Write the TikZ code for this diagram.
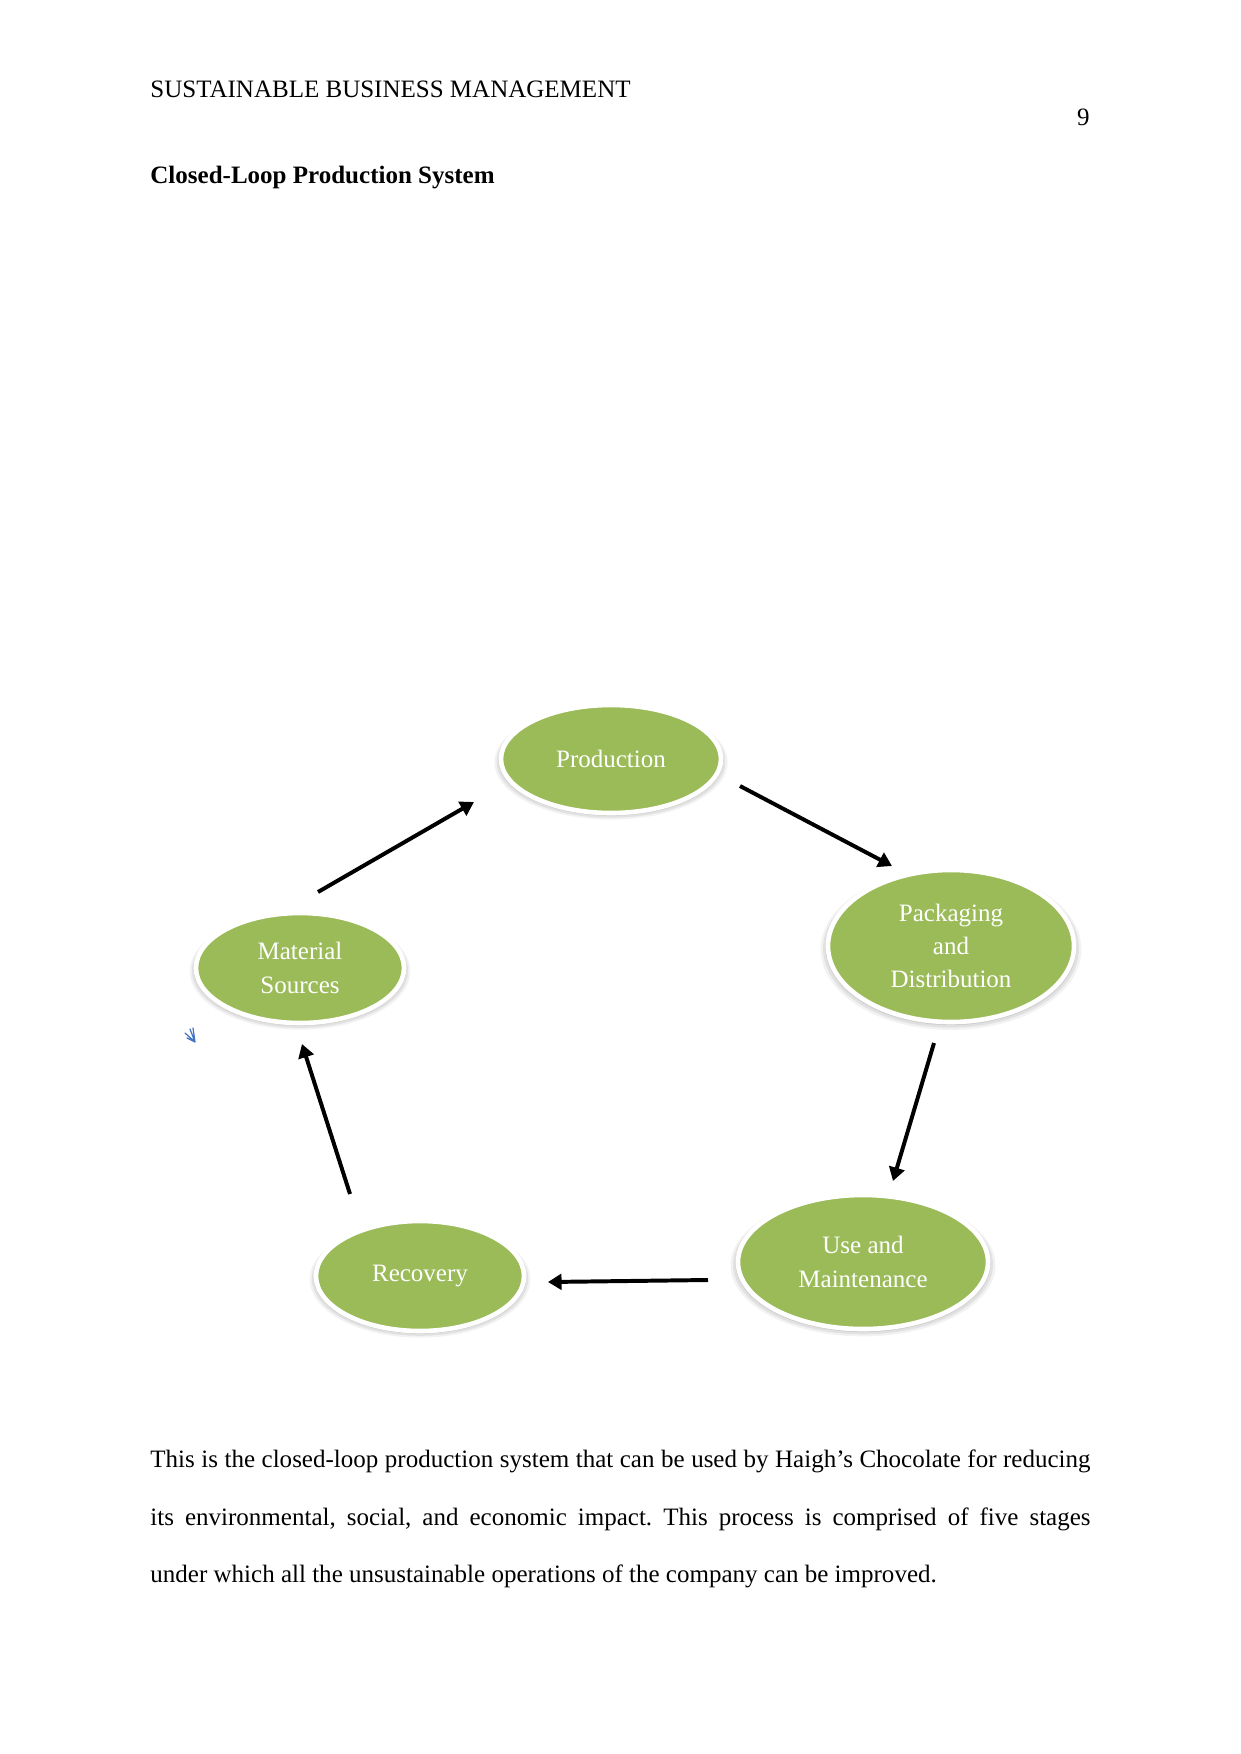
\documentclass[tikz,border=0pt]{standalone}
\usepackage{fontspec}
\setmainfont{Liberation Serif}
\usetikzlibrary{arrows.meta,shapes.geometric,shadows}
\definecolor{leaf}{HTML}{9BBB59}
\definecolor{markblue}{HTML}{4472C4}
\def\pxu{0.4797pt}
\frenchspacing
\begin{document}
\begin{tikzpicture}[x=0.4797pt,y=-0.4797pt,
  stage/.style={ellipse, inner sep=0pt, fill=leaf, draw=white, line width=2.2pt,
    text=white, align=center, font=\fontsize{12}{16}\selectfont,
    general shadow={shadow scale=1.06, shadow yshift=-1.5pt, fill=black, opacity=0.05},
    general shadow={shadow scale=1.04, shadow yshift=-1.2pt, fill=black, opacity=0.07},
    general shadow={shadow scale=1.02, shadow yshift=-0.8pt, fill=black, opacity=0.09}},
  flow/.style={line width=1.9pt, -{Triangle[length=6.5pt,width=7.5pt]}},
  body/.style={anchor=base west, inner sep=0pt, font=\fontsize{12}{14}\selectfont}]
\useasboundingbox (0,0) rectangle (1241,1754);
% header
\node[body] (hdr) at (150,98) {SUSTAINABLE BUSINESS MANAGEMENT};
\node[body, anchor=base east] (pg) at (1090,126) {9};
\node[body] (ttl) at (150,184) {\bfseries Closed-Loop Production System};
% stages
\node[stage, minimum width=220*\pxu, minimum height=108*\pxu] (prod) at (611,759) {Production};
\node[stage, minimum width=246*\pxu, minimum height=152*\pxu] (pack) at (951,946) {Packaging\\and\\Distribution};
\node[stage, minimum width=208*\pxu, minimum height=110*\pxu] (mat) at (300,968) {Material\\Sources};
\node[stage, minimum width=250*\pxu, minimum height=134*\pxu] (use) at (863,1262) {Use and\\Maintenance};
\node[stage, minimum width=208*\pxu, minimum height=110*\pxu] (rec) at (420,1276) {Recovery};
% arrow end points
\coordinate (a1s) at (318,892); \coordinate (a1e) at (474,802);
\coordinate (a2s) at (740,786); \coordinate (a2e) at (892,866);
\coordinate (a3s) at (934,1043); \coordinate (a3e) at (893,1181);
\coordinate (a4s) at (708,1280); \coordinate (a4e) at (548,1282);
\coordinate (a5s) at (350,1194); \coordinate (a5e) at (302,1044);
\draw[flow] (a1s) -- (a1e);
\draw[flow] (a2s) -- (a2e);
\draw[flow] (a3s) -- (a3e);
\draw[flow] (a4s) -- (a4e);
\draw[flow] (a5s) -- (a5e);
% small blue mark
\coordinate (bm) at (195,1042);
\draw[markblue, line width=0.6pt, line cap=round] (185,1033) -- (bm) (187,1038) -- (bm) (190,1029) -- (bm) (193,1028) -- (bm);
% body text
\node[body] (l1) at (150,1467) {\makebox[451pt][s]{This is the closed-loop production system that can be used by Haigh’s Chocolate for reducing}};
\node[body] (l2) at (150,1525) {\makebox[451pt][s]{its environmental, social, and economic impact. This process is comprised of five stages}};
\node[body] (l3) at (150,1582) {under which all the unsustainable operations of the company can be improved.};
\end{tikzpicture}
\end{document}
